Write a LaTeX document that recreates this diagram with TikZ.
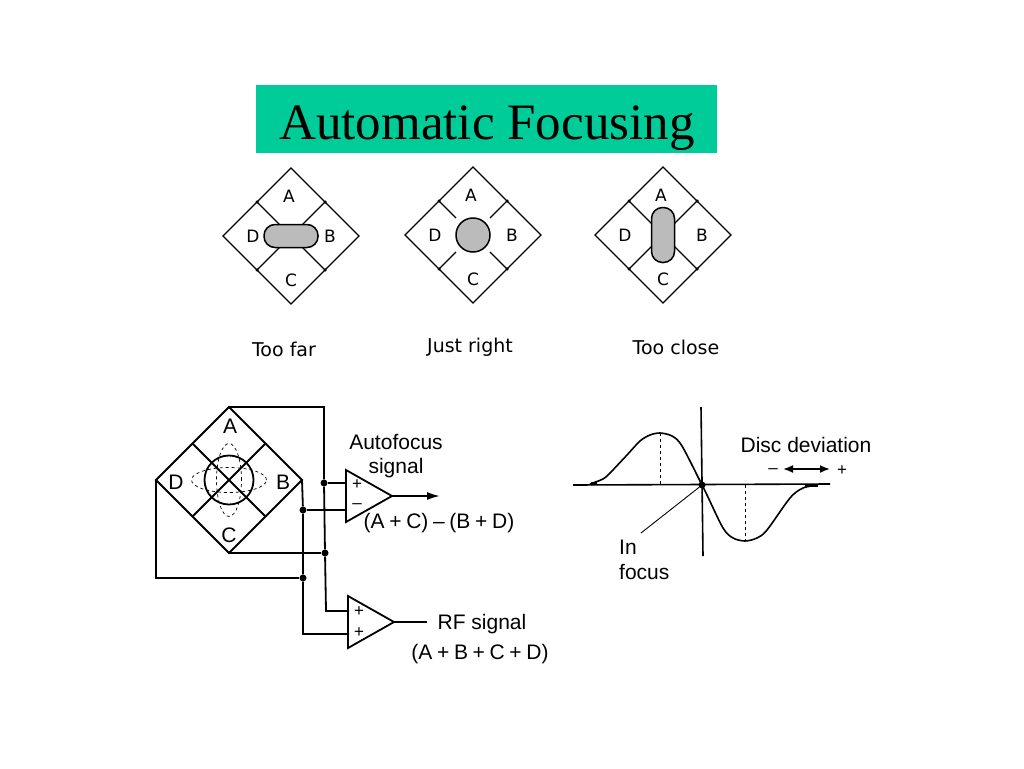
\documentclass[tikz,border=0pt]{standalone}
\usepackage{fontspec}
\setmainfont{Liberation Sans}
\newfontfamily\titlefont{Liberation Serif}
\newfontfamily\smallfont{DejaVu Sans}
\usetikzlibrary{shapes.geometric, arrows.meta}
\definecolor{titlegreen}{RGB}{0,204,153}
\definecolor{spotgray}{RGB}{187,187,187}
\tikzset{
    quad/.style={draw, diamond, aspect=1, inner sep=0pt, outer sep=0pt, line width=1.2pt},
    spot/.style={draw, rectangle, fill=spotgray, inner sep=0pt, outer sep=0pt, line width=1.5pt},
    wire/.style={line width=1.8pt},
    dot/.style={circle, fill=black, inner sep=0pt, minimum size=7pt},
    tinydot/.style={circle, fill=black, inner sep=0pt, minimum size=3.5pt},
    amp/.style={draw, isosceles triangle, isosceles triangle stretches, shape border rotate=0,
        minimum height=46pt, minimum width=52pt, inner sep=0pt, outer sep=0pt, anchor=apex, line width=1.8pt},
    bigtext/.style={font=\fontsize{21}{24}\selectfont, inner sep=0pt},
    signtext/.style={font=\fontsize{17}{18}\selectfont, inner sep=0pt},
    smalltext/.style={font=\smallfont\fontsize{17}{20}\selectfont, inner sep=0pt},
    captext/.style={font=\smallfont\fontsize{19}{22}\selectfont, inner sep=0pt},
}
\begin{document}
\begin{tikzpicture}[x=1pt,y=-1pt]
    \useasboundingbox (0,0) rectangle (1024,768);
    \node[fill=titlegreen, minimum width=461pt, minimum height=68pt, inner sep=0pt] (title) at (486.5,119) {};
    \node[font=\titlefont\fontsize{51}{56}\selectfont, inner sep=0pt] (titletext) at (487,128) {Automatic Focusing};
    \foreach \n/\cx/\cy/\rx/\ry/\rc/\capx/\capy/\cap in {
        1/291/236/54/23/11/284/349/Too far,
        2/473/235/34/34/16.9/470/347/Just right,
        3/663/235/23/55/11/676/347/Too close} {
        \node[quad, minimum size=136pt] (q\n) at (\cx,\cy) {};
        \node[spot, rounded corners=\rc pt, minimum width=\rx pt, minimum height=\ry pt] (s\n) at (\cx,\cy) {};
        \foreach \a in {north east, north west, south east, south west} {
            \draw[line width=1.2pt] (q\n.\a) -- (s\n);
            \node[tinydot] at (q\n.\a) {};
        }
        \node[smalltext] (qa\n) at (\cx-2,\cy-40) {A};
        \node[smalltext] (qb\n) at (\cx+39,\cy) {B};
        \node[smalltext] (qc\n) at (\cx,\cy+44) {C};
        \node[smalltext] (qd\n) at (\cx-38,\cy) {D};
        \node[captext] (cap\n) at (\capx,\capy) {\cap};
    }

    \node[quad, wire, minimum size=146pt] (pd) at (229,480) {};
    \draw[wire] (pd.north east) -- (pd.south west);
    \draw[wire] (pd.north west) -- (pd.south east);
    \node[draw, circle, wire, minimum size=49pt, inner sep=0pt] (ring) at (229,480) {};
    \node[draw, ellipse, dashed, line width=.7pt, minimum width=75pt, minimum height=25pt, inner sep=0pt] (ringh) at (229,480) {};
    \node[draw, ellipse, dashed, line width=.7pt, minimum width=25pt, minimum height=73pt, inner sep=0pt] (ringv) at (229,480) {};
    \node[bigtext] (la) at (230,426) {A};
    \node[bigtext] (lb) at (283,482) {B};
    \node[bigtext] (lc) at (229,535) {C};
    \node[bigtext] (ld) at (176,482) {D};

    \node[amp] (afamp) at (392,496) {};
    \node[amp] (rfamp) at (394,622) {};
    \node[dot] (j1) at (324,483) {};
    \node[dot] (j2) at (303,510) {};
    \node[dot] (j3) at (325,553) {};
    \node[dot] (j4) at (303,578) {};
    \coordinate (af1) at (346,483);
    \coordinate (af2) at (346,510);
    \coordinate (rf1) at (349,611);
    \coordinate (rf2) at (349,634);
    \coordinate (afout) at (440,496);
    \coordinate (rfout) at (427,622);
    \draw[wire] (pd.north) -- (324,407) -- (j1) -- (j3) -- (326,611) -- (rf1);
    \draw[wire] (j1) -- (af1);
    \draw[wire] (j2) -- (af2);
    \draw[wire] (pd.east) -- (j2) -- (j4) -- (303,634) -- (rf2);
    \draw[wire] (pd.south) -- (j3);
    \draw[wire] (pd.west) -- (156,578) -- (j4);
    \draw[wire, -{Latex[length=13pt,width=8pt]}] (afamp.apex) -- (afout);
    \draw[wire] (rfamp.apex) -- (rfout);
    \node[signtext] (afp) at (357,485) {+};
    \node[signtext] (afm) at (357,506) {--};
    \node[signtext] (rfp) at (359,612) {+};
    \node[signtext] (rfq) at (359,633) {+};
    \node[bigtext, align=center] (aflabel) at (396,456) {Autofocus\\signal};
    \node[bigtext] (afsum) at (439,523) {(A\:+\:C)\:--\:(B\:+\:D)};
    \node[bigtext] (rflabel) at (482,624) {RF signal};
    \node[bigtext] (rfsum) at (480,654) {(A\:+\:B\:+\:C\:+\:D)};

    \coordinate (xl) at (573,485);
    \coordinate (xr) at (830,484);
    \coordinate (yt) at (701,407);
    \coordinate (yb) at (703,556);
    \draw[line width=1.6pt] (xl) -- (xr);
    \draw[line width=1.6pt] (yt) -- (yb);
    \draw[line width=1.6pt] plot[smooth, tension=.5] coordinates {(590,484) (603,479) (610,473) (627,455) (640,441) (650,435) (660,433) (672,436) (682,446) (702,485) (707,495) (723,528) (733,538) (745,541) (757,538) (767,530) (790,498) (803,488) (818,485)};
    \draw[line width=3pt] (591,484) -- (597,483);
    \draw[line width=3pt] (805,485) -- (818,485);
    \draw[dashed, line width=.9pt] (660,433) -- (660,485);
    \draw[dashed, line width=.9pt] (745,485) -- (745,541);
    \node[dot] (focus) at (702,485) {};
    \coordinate (leader) at (641,533);
    \draw[line width=.9pt] (focus) -- (leader);
    \node[bigtext, anchor=west] (lin) at (619,547) {In};
    \node[bigtext, anchor=west] (lfocus) at (619,572) {focus};
    \node[bigtext] (ldisc) at (806,445) {Disc deviation};
    \node[signtext] (lminus) at (773,471) {--};
    \node[signtext] (lplus) at (842,471) {+};
    \draw[wire, {Latex[length=10pt,width=8pt]}-{Latex[length=10pt,width=8pt]}] (783,469) -- (830,469);
\end{tikzpicture}
\end{document}
